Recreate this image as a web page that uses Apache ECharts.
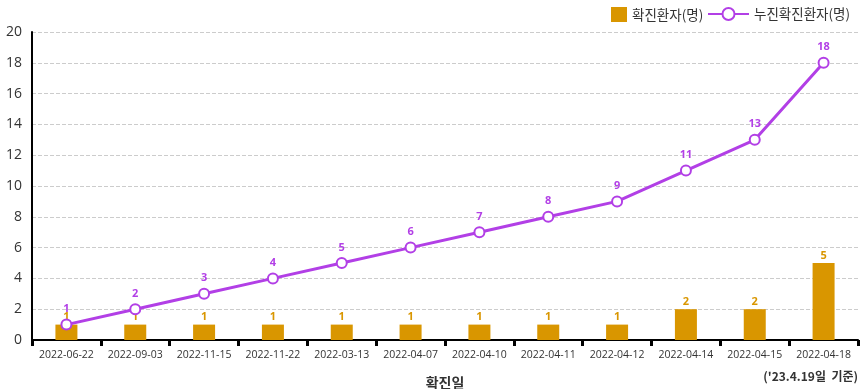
<!DOCTYPE html>
<html><head><meta charset="utf-8">
<script src="https://cdn.jsdelivr.net/npm/echarts@6/dist/echarts.min.js"></script>
<style>html,body{margin:0;padding:0;background:#fff}#c{width:860px;height:389px}</style>
</head><body><div id="c"></div>
<script>
const categories = ['2022-06-22','2022-09-03','2022-11-15','2022-11-22','2022-03-13','2022-04-07','2022-04-10','2022-04-11','2022-04-12','2022-04-14','2022-04-15','2022-04-18'];
const dailyCases = [1,1,1,1,1,1,1,1,1,2,2,5];
const cumulativeCases = [1,2,3,4,5,6,7,8,9,11,13,18];
const yTicks = {min:0, max:20, interval:2};
const FONT = '"Open Sans","Noto Sans CJK KR",sans-serif';
const KFONT = '"Noto Sans CJK KR","Noto Sans",sans-serif';
const chart = echarts.init(document.getElementById('c'));
chart.setOption({
  animation:false,
  textStyle:{fontFamily:FONT},
  grid:{left:32,right:2,top:32,bottom:49,outerBoundsMode:'none'},
  legend:[
    {left:606, top:2, itemWidth:16, itemHeight:15, itemGap:10,
     textStyle:{fontSize:13.5,color:'#333',fontFamily:KFONT},
     data:[{name:'확진환자(명)',icon:'rect'}]},
    {left:702, top:2, itemWidth:41, itemHeight:15,
     textStyle:{fontSize:13.5,color:'#333',fontFamily:KFONT},
     data:[{name:'누진확진환자(명)'}]}
  ],
  graphic:[
    {type:'text',right:2,top:370,style:{text:"('23.4.19일  기준)",fontSize:12,fontWeight:'bold',fill:'#333',fontFamily:KFONT}}
  ],
  xAxis:{
    type:'category', data:categories,
    name:'확진일', nameLocation:'middle', nameGap:36,
    nameTextStyle:{fontSize:14,fontWeight:'bold',color:'#333',fontFamily:KFONT},
    axisLine:{lineStyle:{color:'#000',width:2}},
    axisTick:{show:true,length:6,lineStyle:{color:'#000',width:3}},
    axisLabel:{fontSize:10.5,color:'#333',margin:10,interval:0}
  },
  yAxis:{
    type:'value', min:yTicks.min, max:yTicks.max, interval:yTicks.interval,
    axisLine:{show:true,lineStyle:{color:'#000',width:2}},
    axisTick:{show:false},
    axisLabel:{fontSize:14,color:'#333',margin:10},
    splitLine:{lineStyle:{color:'#ccc',type:'dashed'}}
  },
  series:[
    {name:'확진환자(명)',type:'bar',data:dailyCases,barWidth:22,
     itemStyle:{color:'#d99600'},
     label:{show:true,position:'top',color:'#d99600',fontSize:11,fontWeight:'bold',distance:2}},
    {name:'누진확진환자(명)',type:'line',data:cumulativeCases,
     symbol:'emptyCircle',symbolSize:10,
     lineStyle:{color:'#b23fe6',width:3},
     itemStyle:{color:'#b23fe6',borderWidth:3,borderColor:'#b23fe6'},
     label:{show:true,position:'top',color:'#b23fe6',fontSize:11,fontWeight:'bold',distance:4}}
  ]
});
</script></body></html>
